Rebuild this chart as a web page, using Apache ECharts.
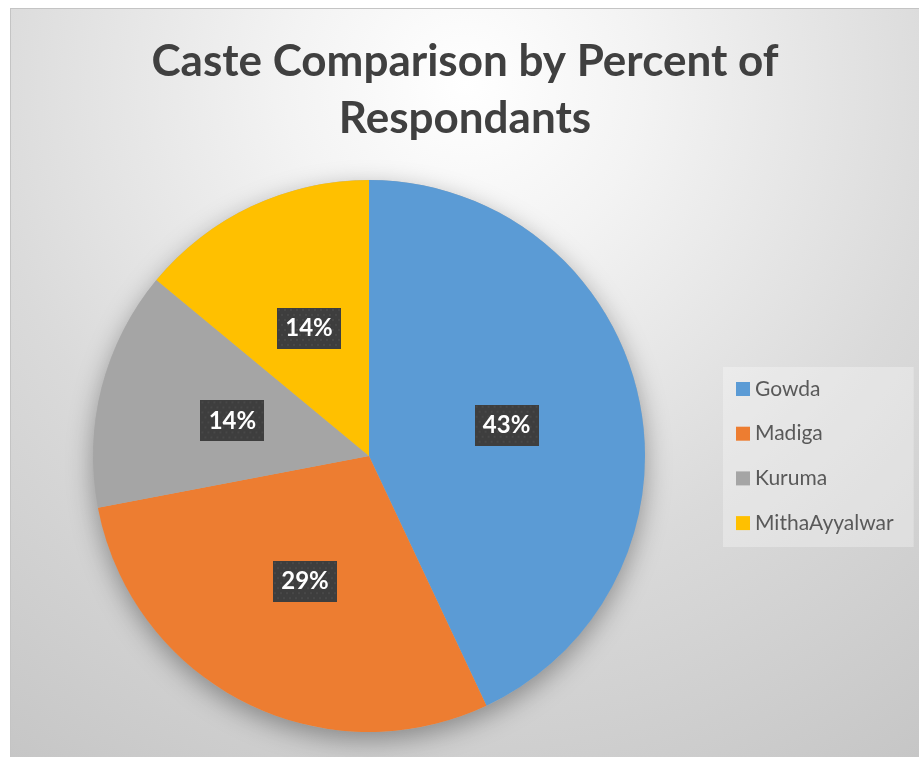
<!DOCTYPE html>
<html>
<head>
<meta charset="utf-8">
<script src="https://cdn.jsdelivr.net/npm/echarts@6/dist/echarts.min.js"></script>
<style>
  html, body { margin: 0; padding: 0; background: #ffffff; width: 919px; height: 757px; overflow: hidden; }
  #chart {
    position: absolute; left: 10px; top: 8px; width: 909px; height: 749px;
    box-sizing: border-box;
    border-top: 1px solid #c4c4c4; border-left: 1px solid #c4c4c4;
    background: radial-gradient(circle farthest-corner at 50% 10%, #ffffff 0%, #f3f3f3 22%, #dadada 60%, #c6c6c6 100%);
  }
</style>
</head>
<body>
<div id="chart"></div>
<script>
// Share of respondents per caste (percent)
const castes = ['Gowda', 'Madiga', 'Kuruma', 'MithaAyyalwar'];
const percents = [43, 29, 14, 14];
const sliceColors = ['#5B9BD5', '#ED7D31', '#A5A5A5', '#FFC000'];
const titleLines = ['Caste Comparison by Percent of', 'Respondants'];

// Dark dotted tile used behind the data labels
function dottedTile(w, h) {
  const c = document.createElement('canvas');
  c.width = w; c.height = h;
  const g = c.getContext('2d');
  g.fillStyle = '#3e3e3e';
  g.fillRect(0, 0, w, h);
  g.fillStyle = '#4b4b4b';
  for (let y = 2, row = 0; y < h; y += 5, row++) {
    for (let x = (row % 2 ? 5 : 2); x < w; x += 6) {
      g.beginPath();
      g.arc(x, y, 1.1, 0, Math.PI * 2);
      g.fill();
    }
  }
  return c;
}
const labelTile = dottedTile(64, 41);

const chart = echarts.init(document.getElementById('chart'), null, { renderer: 'canvas' });
const center = [358, 447];
const radius = 276;

chart.setOption({
  animation: false,
  title: {
    text: titleLines.join('\n'),
    left: 'center',
    top: 19,
    textStyle: {
      fontFamily: 'Lato',
      fontWeight: 'bold',
      fontSize: 44,
      lineHeight: 57,
      color: '#404040'
    }
  },
  legend: {
    orient: 'vertical',
    left: 712,
    top: 358,
    data: castes,
    icon: 'rect',
    itemWidth: 14,
    itemHeight: 14,
    itemGap: 23.7,
    padding: [11.5, 20, 13.5, 13],
    backgroundColor: 'rgba(255,255,255,0.3)',
    textStyle: { fontFamily: 'Lato', fontSize: 21, color: '#595959' }
  },
  series: [
    {
      // soft drop shadow under the whole pie
      type: 'pie',
      silent: true,
      center: center,
      radius: radius,
      z: 1,
      label: { show: false },
      labelLine: { show: false },
      emphasis: { disabled: true },
      data: [{
        value: 1,
        name: '',
        itemStyle: {
          color: '#b0b0b0',
          shadowBlur: 26,
          shadowOffsetY: 8,
          shadowColor: 'rgba(0,0,0,0.35)'
        }
      }]
    },
    {
      type: 'pie',
      center: center,
      radius: radius,
      startAngle: 90,
      clockwise: true,
      z: 2,
      emphasis: { scale: false },
      itemStyle: { borderWidth: 0 },
      label: {
        show: true,
        position: 'inside',
        formatter: p => p.value + '%',
        fontFamily: 'Lato',
        fontWeight: 'bold',
        fontSize: 24,
        lineHeight: 23,
        color: '#ffffff',
        width: 44,
        overflow: 'none',
        align: 'center',
        padding: [9, 10],
        backgroundColor: { image: labelTile },
        shadowBlur: 7,
        shadowOffsetX: 3,
        shadowOffsetY: 4,
        shadowColor: 'rgba(0,0,0,0.45)'
      },
      data: castes.map((name, i) => ({
        name: name,
        value: percents[i],
        itemStyle: { color: sliceColors[i] }
      }))
    }
  ]
});
</script>
</body>
</html>
